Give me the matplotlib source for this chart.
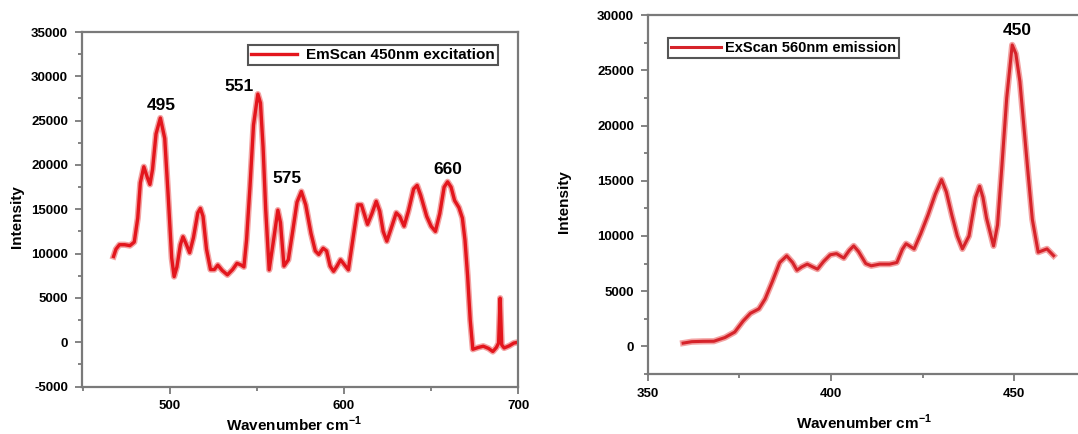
import matplotlib
matplotlib.use("Agg")
import matplotlib.pyplot as plt
from matplotlib.ticker import MultipleLocator

plt.rcParams["font.family"] = ["Liberation Sans", "DejaVu Sans"]
plt.rcParams["font.weight"] = "bold"
plt.rcParams["axes.unicode_minus"] = False
plt.rcParams["mathtext.fontset"] = "custom"
plt.rcParams["mathtext.rm"] = "Liberation Sans:bold"
plt.rcParams["mathtext.bf"] = "Liberation Sans:bold"

# EmScan, 450 nm excitation
em_x = [467.6, 469, 471, 474, 477, 479.5, 481.5, 483, 485, 487,
        488.5, 490, 492, 494.5, 497, 499, 501, 502.4, 504, 506,
        507.5, 509.5, 511.3, 513.5, 516, 517.5, 519, 521, 523.3, 525.5,
        527.5, 530, 533, 536, 538.5, 541, 542.5, 544, 546, 548,
        550.5, 552, 553.5, 555, 557, 559.5, 562, 563.5, 565.5, 568,
        570.5, 573, 575.5, 578, 581, 583.5, 585.5, 588, 590, 592,
        594, 596, 598, 600, 602.5, 605, 608, 610, 613.5, 616,
        618.5, 620.5, 622.5, 624.6, 627, 630, 632, 634.5, 637, 640,
        642, 644, 647.5, 650, 652.5, 655, 657.5, 659.5, 661.5, 663.5,
        666, 668, 669.5, 671, 672.5, 674, 677, 680, 683, 685.5,
        687.5, 688.8, 689.7, 690.6, 692, 695, 697.5, 700]
em_y = [9670, 10500, 11000, 11000, 10900, 11300, 14000, 18000, 19800, 18600,
        17800, 19500, 23500, 25300, 23000, 16500, 9500, 7400, 8500, 11000,
        11900, 11000, 10100, 11800, 14600, 15100, 14200, 10500, 8200, 8200,
        8700, 8100, 7600, 8200, 8900, 8700, 8500, 11500, 17600, 24500,
        28000, 27000, 22000, 15000, 8170, 11500, 14900, 13500, 8600, 9300,
        12500, 15800, 17000, 15500, 12300, 10300, 9900, 10600, 10300, 8600,
        8000, 8600, 9300, 8800, 8170, 11500, 15500, 15500, 13300, 14500,
        15900, 14800, 12500, 11400, 12800, 14600, 14200, 13100, 14800, 17300,
        17700, 16600, 14200, 13100, 12500, 14500, 17500, 18100, 17500, 16000,
        15200, 14000, 11500, 7500, 2500, -800, -600, -450, -700, -1050,
        -600, -100, 4970, -300, -650, -400, -100, 0]

# ExScan, 560 nm emission
ex_x = [359.6, 362, 365, 368, 371, 373.7, 376, 378, 380.3, 382,
        384, 386, 387.9, 389.5, 390.7, 392, 393.5, 395, 396.3, 398,
        399.8, 401.5, 403.5, 405, 406.2, 407.5, 409.5, 411, 413.3, 416,
        418, 419.5, 420.5, 422.7, 424.5, 426.5, 428.5, 430.2, 431.5, 433,
        434.5, 435.9, 437.7, 439.5, 440.6, 441.5, 442.5, 444.4, 445.5, 446.7,
        448, 449.5, 450.5, 451.6, 452.8, 453.8, 455, 456.6, 459, 460.8]
ex_y = [300, 430, 460, 470, 800, 1300, 2300, 3000, 3400, 4300,
        5900, 7600, 8200, 7600, 6900, 7200, 7450, 7200, 7000, 7700,
        8300, 8400, 8000, 8700, 9100, 8600, 7500, 7300, 7450, 7450,
        7600, 8800, 9300, 8830, 10200, 11900, 13800, 15100, 14000, 11900,
        10000, 8830, 10000, 13500, 14500, 13500, 11600, 9100, 11000, 16400,
        22500, 27300, 26500, 24000, 19500, 15800, 11500, 8530, 8830, 8220]

em_peaks = [(495, 26700, "495"), (539.6, 28900, "551"),
            (567, 18500, "575"), (659.4, 19500, "660")]
ex_peaks = [(450.9, 28600, "450")]

spine_col = "#7a7a7a"
xlab = "Wavenumber cm$^{-1}$"

fig = plt.figure(figsize=(10.78, 4.34), dpi=100)
ax1 = fig.add_axes([0.0761, 0.1094, 0.4045, 0.8168])
ax2 = fig.add_axes([0.6011, 0.1382, 0.4, 0.827])


def style(ax):
    for s in ax.spines.values():
        s.set_color(spine_col)
        s.set_linewidth(1.6)
    ax.tick_params(which="both", direction="out", color=spine_col, width=1.3,
                   labelsize=9.5, pad=5)
    ax.tick_params(which="major", length=5)
    ax.tick_params(which="minor", length=3)
    ax.set_xlabel(xlab, fontsize=11, fontweight="bold")
    ax.set_ylabel("Intensity", fontsize=11, fontweight="bold")


# left: emission scan
ax1.plot(em_x, em_y, color="#f3a3a3", lw=4.5, solid_joinstyle="round")
ax1.plot(em_x, em_y, color="#e3161d", lw=2.4, solid_joinstyle="round",
         label="EmScan 450nm excitation")
ax1.set_xlim(449.5, 700)
ax1.set_ylim(-5000, 35000)
ax1.xaxis.set_major_locator(MultipleLocator(100))
ax1.xaxis.set_minor_locator(MultipleLocator(50))
ax1.yaxis.set_major_locator(MultipleLocator(5000))
ax1.yaxis.set_minor_locator(MultipleLocator(2500))
for x, y, t in em_peaks:
    ax1.text(x, y, t, ha="center", va="center", fontsize=12.5, fontweight="bold")
style(ax1)
ax1.yaxis.set_label_coords(-0.133, 0.48)
ax1.xaxis.set_label_coords(0.487, -0.08)
leg1 = ax1.legend(loc="upper left", bbox_to_anchor=(0.230, 0.896),
                  bbox_transform=fig.transFigure,
                  prop={"weight": "bold", "size": 11}, handlelength=3.0,
                  fancybox=False, framealpha=1, borderpad=0.2,
                  handletextpad=0.6, borderaxespad=0)
leg1.get_frame().set_edgecolor("#555555")
leg1.get_frame().set_linewidth(1.5)

# right: excitation scan
ax2.plot(ex_x, ex_y, color="#f3a3a3", lw=4.5, solid_joinstyle="round")
ax2.plot(ex_x, ex_y, color="#d6232a", lw=2.2, solid_joinstyle="round",
         label="ExScan 560nm emission")
ax2.set_xlim(350, 467.8)
ax2.set_ylim(-2500, 30000)
ax2.xaxis.set_major_locator(MultipleLocator(50))
ax2.xaxis.set_minor_locator(MultipleLocator(25))
ax2.yaxis.set_major_locator(MultipleLocator(5000))
ax2.yaxis.set_minor_locator(MultipleLocator(2500))
ax2.spines["right"].set_visible(False)
for x, y, t in ex_peaks:
    ax2.text(x, y, t, ha="center", va="center", fontsize=12.5, fontweight="bold")
style(ax2)
ax2.yaxis.set_label_coords(-0.179, 0.48)
ax2.xaxis.set_label_coords(0.502, -0.107)
leg2 = ax2.legend(loc="upper left", bbox_to_anchor=(0.6197, 0.912),
                  bbox_transform=fig.transFigure,
                  prop={"weight": "bold", "size": 10.5}, handlelength=3.4,
                  fancybox=False, framealpha=1, borderpad=0.2,
                  handletextpad=0.3, borderaxespad=0)
leg2.get_frame().set_edgecolor("#555555")
leg2.get_frame().set_linewidth(1.5)

fig.savefig("out.png", dpi=100)
